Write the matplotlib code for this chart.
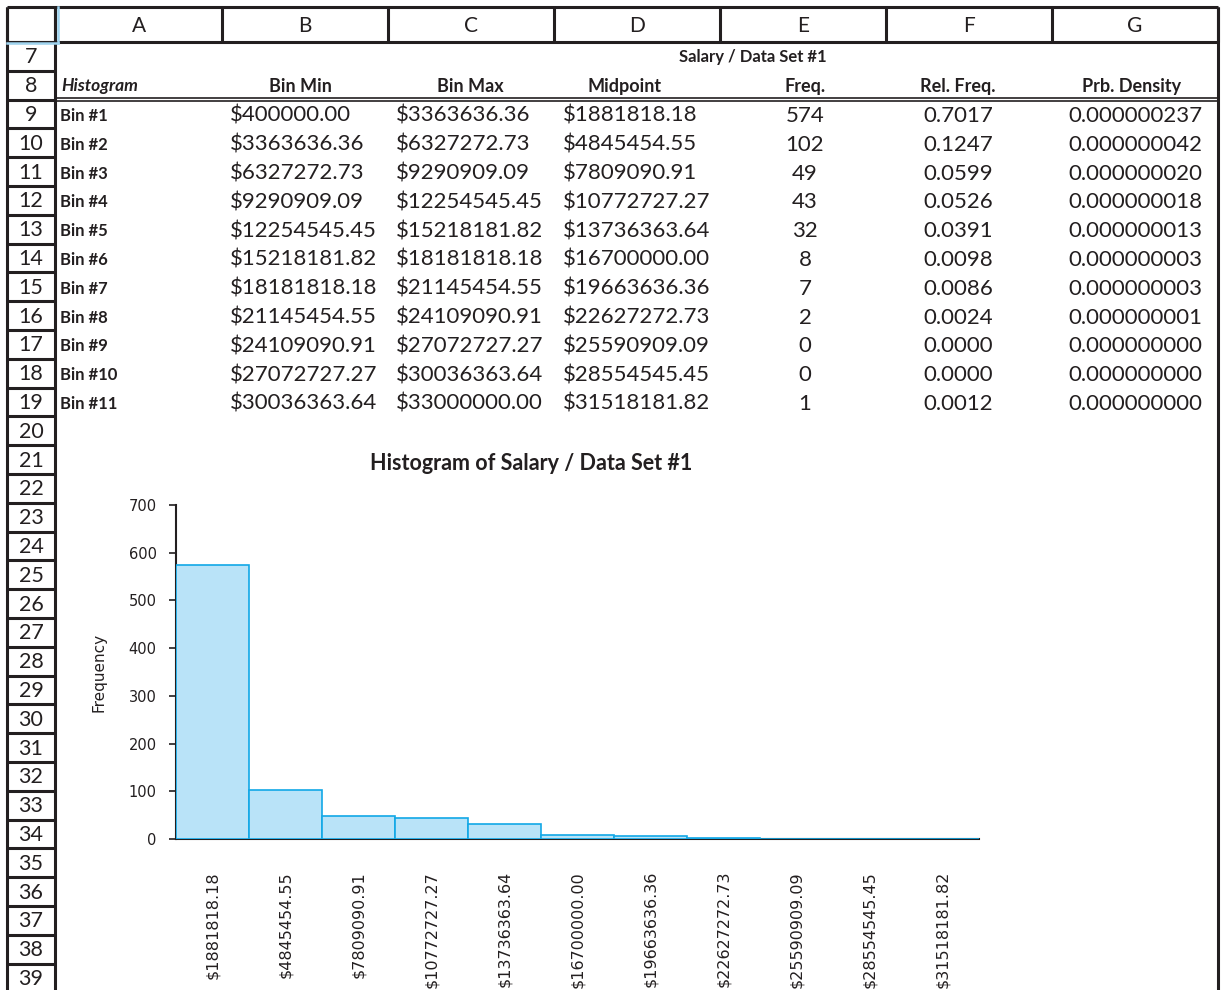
import matplotlib.pyplot as plt

# spreadsheet content
col_letters = ['A', 'B', 'C', 'D', 'E', 'F', 'G']
headers = ['Bin Min', 'Bin Max', 'Midpoint', 'Freq.', 'Rel. Freq.', 'Prb. Density']
bins = ['Bin #1', 'Bin #2', 'Bin #3', 'Bin #4', 'Bin #5', 'Bin #6',
        'Bin #7', 'Bin #8', 'Bin #9', 'Bin #10', 'Bin #11']
bin_min = [400000.00, 3363636.36, 6327272.73, 9290909.09, 12254545.45, 15218181.82,
           18181818.18, 21145454.55, 24109090.91, 27072727.27, 30036363.64]
bin_max = [3363636.36, 6327272.73, 9290909.09, 12254545.45, 15218181.82, 18181818.18,
           21145454.55, 24109090.91, 27072727.27, 30036363.64, 33000000.00]
midpoint = [1881818.18, 4845454.55, 7809090.91, 10772727.27, 13736363.64, 16700000.00,
            19663636.36, 22627272.73, 25590909.09, 28554545.45, 31518181.82]
freq = [574, 102, 49, 43, 32, 8, 7, 2, 0, 0, 1]
rel_freq = [0.7017, 0.1247, 0.0599, 0.0526, 0.0391, 0.0098, 0.0086, 0.0024, 0.0, 0.0, 0.0012]
prb_density = [0.000000237, 0.000000042, 0.000000020, 0.000000018, 0.000000013,
               0.000000003, 0.000000003, 0.000000001, 0.0, 0.0, 0.0]

W, H = 1222, 990
ink = '#231f20'
cell_font = 'Lato'

fig = plt.figure(figsize=(W / 100, H / 100), dpi=100)
bg = fig.add_axes([0, 0, 1, 1])
bg.set_xlim(0, W)
bg.set_ylim(H, 0)
bg.axis('off')

col_edges = [7, 55, 222, 388, 554, 720, 886, 1052, 1218]
top, head_bot, row_h = 7, 42, 28.8
row_nums = list(range(7, 40))


def row_y(i):
    # top edge of the i-th sheet row (i=0 is row 7)
    return head_bot + i * row_h


# column header strip
bg.hlines([top, head_bot], col_edges[0], col_edges[-1], color=ink, lw=2.2)
bg.vlines(col_edges, top, head_bot, color=ink, lw=2.2)
for k, letter in enumerate(col_letters):
    cx = (col_edges[k + 1] + col_edges[k + 2]) / 2
    bg.text(cx, (top + head_bot) / 2 + 1, letter, ha='center', va='center',
            fontsize=15, family=cell_font, color=ink)

# row number strip + right border
bg.vlines([col_edges[0], col_edges[1]], top, H, color=ink, lw=2.2)
bg.vlines(col_edges[-1], top, H, color=ink, lw=2.2)
bg.hlines([row_y(i) for i in range(len(row_nums) + 1)], col_edges[0], col_edges[1],
          color=ink, lw=2.2)
for i, r in enumerate(row_nums):
    bg.text(31, row_y(i) + row_h / 2 + 1, str(r), ha='center', va='center',
            fontsize=15.5, family=cell_font, color=ink)

# selection marks in the corner
bg.plot([57.5, 57.5], [top, head_bot + 1], color='#9fd4ef', lw=1.8)
bg.plot([col_edges[0], 57.5], [head_bot + 1, head_bot + 1], color='#9fd4ef', lw=1.8)

# double line under the header row 8
y8 = row_y(2)
bg.hlines([y8 - 1.8, y8 + 1.8], col_edges[1], col_edges[-1], color=ink, lw=1.2)

# row 7 / row 8 labels
bg.text(753, row_y(0) + row_h / 2 + 1, 'Salary / Data Set #1', ha='center', va='center',
        fontsize=12, family=cell_font, weight='bold', color=ink)
bg.text(61, row_y(1) + row_h / 2 + 1, 'Histogram', ha='left', va='center',
        fontsize=12.5, family=cell_font, weight='bold', style='italic', color=ink)
head_x = [300, 470, 625, 805, 958, 1132]
for hx, h in zip(head_x, headers):
    bg.text(hx, row_y(1) + row_h / 2 + 1, h, ha='center', va='center',
            fontsize=13, family=cell_font, weight='bold', color=ink)

# data rows
for i in range(len(bins)):
    cy = row_y(i + 2) + row_h / 2 + 2
    bg.text(60, cy, bins[i], ha='left', va='center', fontsize=12,
            family=cell_font, weight='bold', color=ink)
    bg.text(230, cy, '$%.2f' % bin_min[i], ha='left', va='center', fontsize=16,
            family=cell_font, color=ink)
    bg.text(396, cy, '$%.2f' % bin_max[i], ha='left', va='center', fontsize=16,
            family=cell_font, color=ink)
    bg.text(563, cy, '$%.2f' % midpoint[i], ha='left', va='center', fontsize=16,
            family=cell_font, color=ink)
    bg.text(805, cy, str(freq[i]), ha='center', va='center', fontsize=16,
            family=cell_font, color=ink)
    bg.text(958, cy, '%.4f' % rel_freq[i], ha='center', va='center', fontsize=16,
            family=cell_font, color=ink)
    bg.text(1135, cy, '%.9f' % prb_density[i], ha='center', va='center', fontsize=16,
            family=cell_font, color=ink)

# embedded chart
x0, x1, y_top, y_bot = 176, 979, 505, 839
ax = fig.add_axes([x0 / W, (H - y_bot) / H, (x1 - x0) / W, (y_bot - y_top) / H])
ax.patch.set_alpha(0)
pos = list(range(len(freq)))
ax.bar(pos, freq, width=1.0, color='#b9e3f8', edgecolor='#12a8e6', linewidth=1.2, zorder=3)
ax.set_xlim(-0.5, len(freq) - 0.5)
ax.set_ylim(0, 700)
ax.set_yticks(range(0, 701, 100))
ax.set_xticks(pos)
ax.set_xticklabels(['$%.2f' % m for m in midpoint], rotation=90)
for s in ['top', 'right']:
    ax.spines[s].set_visible(False)
for s in ['left', 'bottom']:
    ax.spines[s].set_color(ink)
    ax.spines[s].set_linewidth(1.5)
ax.tick_params(axis='x', length=0, pad=23, labelsize=11.5, labelcolor=ink)
ax.tick_params(axis='y', length=5, width=1.2, color=ink, pad=9, labelsize=10.5, labelcolor=ink)
ax.set_ylabel('Frequency', fontsize=11, color=ink)
ax.yaxis.set_label_coords(-0.087, 0.5)

fig.text(531 / W, 1 - 463 / H, 'Histogram of Salary / Data Set #1', ha='center', va='center',
         fontsize=15.5, family=cell_font, weight='bold', color=ink)

fig.savefig('out.png', dpi=100)
